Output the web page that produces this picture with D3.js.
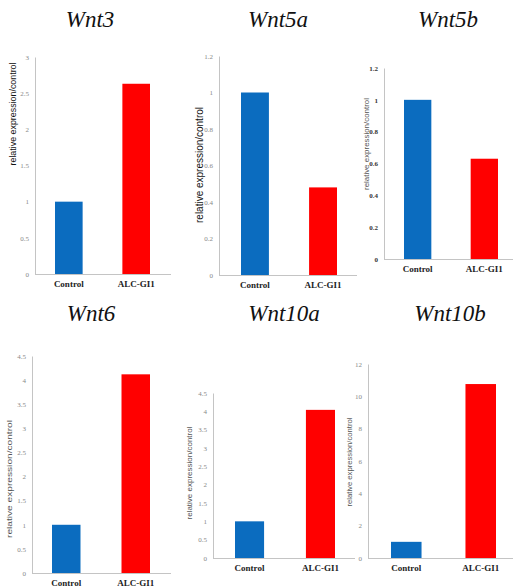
<!DOCTYPE html>
<html>
<head>
<meta charset="utf-8">
<script src="https://cdn.jsdelivr.net/npm/d3@7"></script>
<style>
html,body{margin:0;padding:0;background:#fff;}
svg{display:block;}
.serif{font-family:"Liberation Serif","Times New Roman",Times,serif;}
.sans{font-family:"Liberation Sans",Arial,Helvetica,sans-serif;}
</style>
</head>
<body>
<svg id="chart" width="513" height="588"></svg>
<script>
// ---- data ----
const genes = ["Wnt3", "Wnt5a", "Wnt5b", "Wnt6", "Wnt10a", "Wnt10b"];
const categories = ["Control", "ALC-GI1"];
const controlValues = [1.0, 1.0, 1.0, 1.0, 1.0, 1.0];
const alcValues = [2.63, 0.48, 0.63, 4.12, 4.04, 10.76];
const yMaxValues = [3, 1.2, 1.2, 4.5, 4.5, 12];
const yTickSteps = [0.5, 0.2, 0.2, 0.5, 0.5, 2];
const yAxisTitle = "relative expression/control";

// ---- layout (positions / styles only) ----
const layout = [
  {axisX:35,  axisRight:171, y0:274, yTop:57,  bars:[55,150],  titleX:90,  titleY:27,  labX:14,  labY:114, labLen:103, labSize:9,  tickBold:false},
  {axisX:219, axisRight:357, y0:275, yTop:56,  bars:[241,337], titleX:278, titleY:27,  labX:200, labY:165, labLen:116, labSize:10, tickBold:false},
  {axisX:384, axisRight:513, y0:259, yTop:68,  bars:[404,498], titleX:448, titleY:27,  labX:367, labY:144, labLen:92,  labSize:7,  tickBold:true},
  {axisX:32,  axisRight:171, y0:573, yTop:356, bars:[52,150],  titleX:91,  titleY:321, labX:10,  labY:479, labLen:118, labSize:7,  tickBold:false},
  {axisX:213, axisRight:355, y0:558, yTop:393, bars:[235,335], titleX:284, titleY:321, labX:190, labY:473, labLen:93,  labSize:7,  tickBold:false},
  {axisX:368, axisRight:513, y0:558, yTop:364, bars:[391,496], titleX:450, titleY:321, labX:350, labY:462, labLen:89,  labSize:7,  tickBold:false}
];
const barColors = ["#0b6cbf", "#ff0000"];

const svg = d3.select("#chart");

genes.forEach((gene, i) => {
  const L = layout[i];
  const g = svg.append("g");
  const values = [controlValues[i], alcValues[i]];

  const x = d3.scaleBand().domain(categories).range(L.bars).paddingInner(0.59).paddingOuter(0);
  const y = d3.scaleLinear().domain([0, yMaxValues[i]]).range([L.y0, L.yTop]);

  // title
  g.append("text")
    .attr("class", "serif")
    .attr("x", L.titleX).attr("y", L.titleY)
    .attr("text-anchor", "middle")
    .style("font-style", "italic")
    .style("font-size", "23px")
    .attr("fill", "#111")
    .text(gene);

  // y axis
  const ticks = d3.range(0, yMaxValues[i] + yTickSteps[i] / 2, yTickSteps[i]).map(v => +v.toFixed(3));
  const ya = g.append("g")
    .attr("transform", `translate(${L.axisX},0)`)
    .call(d3.axisLeft(y).tickValues(ticks).tickSize(0).tickPadding(6)
      .tickFormat(d => String(+d.toFixed(2))));
  ya.attr("font-family", null).attr("font-size", null);
  ya.select(".domain").attr("stroke", "#c4c4c4").attr("stroke-width", 1);
  ya.selectAll("text")
    .attr("class", "serif")
    .style("font-size", "7px")
    .style("font-weight", L.tickBold ? "bold" : "normal")
    .attr("fill", L.tickBold ? "#333" : "#888");

  // x axis baseline
  g.append("line")
    .attr("x1", L.axisX).attr("x2", L.axisRight)
    .attr("y1", y(0) + 0.5).attr("y2", y(0) + 0.5)
    .attr("stroke", "#c4c4c4").attr("stroke-width", 1);

  // bars
  g.selectAll("rect.bar").data(categories).enter().append("rect")
    .attr("class", "bar")
    .attr("x", d => x(d))
    .attr("width", x.bandwidth())
    .attr("y", (d, j) => y(values[j]))
    .attr("height", (d, j) => y(0) - y(values[j]))
    .attr("fill", (d, j) => barColors[j]);

  // category labels
  g.selectAll("text.cat").data(categories).enter().append("text")
    .attr("class", "cat serif")
    .attr("x", d => x(d) + x.bandwidth() / 2)
    .attr("y", y(0) + 13)
    .attr("text-anchor", "middle")
    .style("font-weight", "bold")
    .style("font-size", "9px")
    .attr("fill", "#222")
    .text(d => d);

  // y axis title
  g.append("text")
    .attr("class", "sans")
    .attr("transform", `translate(${L.labX},${L.labY}) rotate(-90)`)
    .attr("text-anchor", "middle")
    .attr("dominant-baseline", "middle")
    .style("font-size", L.labSize + "px")
    .attr("fill", i < 2 ? "#111" : "#555")
    .attr("textLength", L.labLen)
    .attr("lengthAdjust", "spacingAndGlyphs")
    .text(yAxisTitle);
});
</script>
</body>
</html>
